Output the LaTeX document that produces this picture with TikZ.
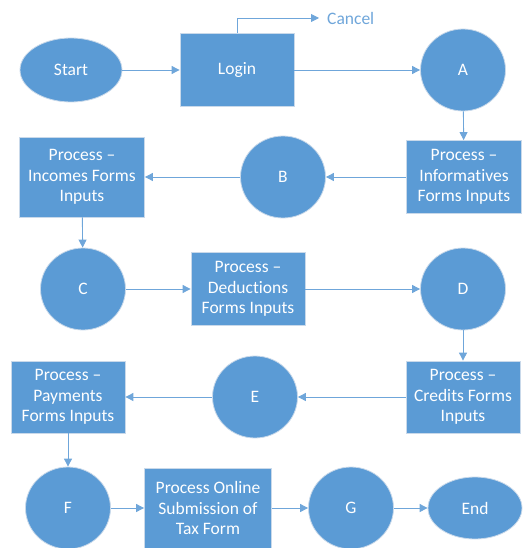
\documentclass[tikz,border=0pt]{standalone}
\usepackage{fontspec}
\setmainfont{Carlito}[Ligatures=NoCommon]
\usetikzlibrary{shapes.geometric,arrows.meta}
\definecolor{fillblue}{HTML}{5B9BD5}
\definecolor{edgeblue}{HTML}{C9D9EA}
\definecolor{linkblue}{HTML}{6FA6DA}
\tikzset{
  base/.style={fill=fillblue,draw=edgeblue,line width=0.8pt,text=white,align=center,
    font=\fontsize{17.5}{20.5}\selectfont,inner sep=0pt},
  procbox/.style={base,rectangle,minimum width=114pt,minimum height=73pt},
  conn/.style={base,ellipse,minimum width=85pt,minimum height=82pt},
  term/.style={base,ellipse,minimum width=102pt,minimum height=64pt},
  link/.style={draw=linkblue,line width=0.9pt,-{Triangle[length=8pt,width=8pt]}}
}
\begin{document}
\begin{tikzpicture}[x=1pt,y=-1pt]
\useasboundingbox (0,0) rectangle (530,548);
% row 1
\node[term] (start) at (71,70) {Start};
\node[procbox] (login) at (237,70) {Login};
\node[conn] (A) at (463,70) {A};
\coordinate (cancelpt) at (319,18);
\node[anchor=west,text=linkblue,font=\fontsize{17.5}{20.5}\selectfont,inner sep=0pt] (cancel) at (327,18) {Cancel};
% row 2
\node[procbox,minimum width=115pt] (info) at (464,177) {Process --\\Informatives\\Forms Inputs};
\node[conn] (B) at (283,177) {B};
\node[procbox,minimum width=125pt,minimum height=80pt] (income) at (82,177) {Process --\\Incomes Forms\\Inputs};
% row 3
\node[conn] (C) at (83,289) {C};
\node[procbox] (deduct) at (248,289) {Process --\\Deductions\\Forms Inputs};
\node[conn] (D) at (463,289) {D};
% row 4
\node[procbox,minimum height=72pt] (credit) at (463,397) {Process --\\Credits Forms\\Inputs};
\node[conn] (E) at (255,397) {E};
\node[procbox,minimum height=72pt] (pay) at (68,397) {Process --\\Payments\\Forms Inputs};
% row 5
\node[conn] (F) at (68,508) {F};
\node[procbox,minimum width=127pt,minimum height=80pt] (online) at (208,508) {Process Online\\Submission of\\Tax Form};
\node[conn] (G) at (351,508) {G};
\node[term,minimum width=94pt,minimum height=62pt] (end) at (475,508) {End};
% connectors
\draw[link] (start) -- (login);
\draw[link] (login) -- (A);
\draw[link] (login.north) |- (cancelpt);
\draw[link] (A) -- (info);
\draw[link] (info) -- (B);
\draw[link] (B) -- (income);
\draw[link] (income) -- (C);
\draw[link] (C) -- (deduct);
\draw[link] (deduct) -- (D);
\draw[link] (D) -- (credit);
\draw[link] (credit) -- (E);
\draw[link] (E) -- (pay);
\draw[link] (pay) -- (F);
\draw[link] (F) -- (online);
\draw[link] (online) -- (G);
\draw[link] (G) -- (end);
\end{tikzpicture}
\end{document}
